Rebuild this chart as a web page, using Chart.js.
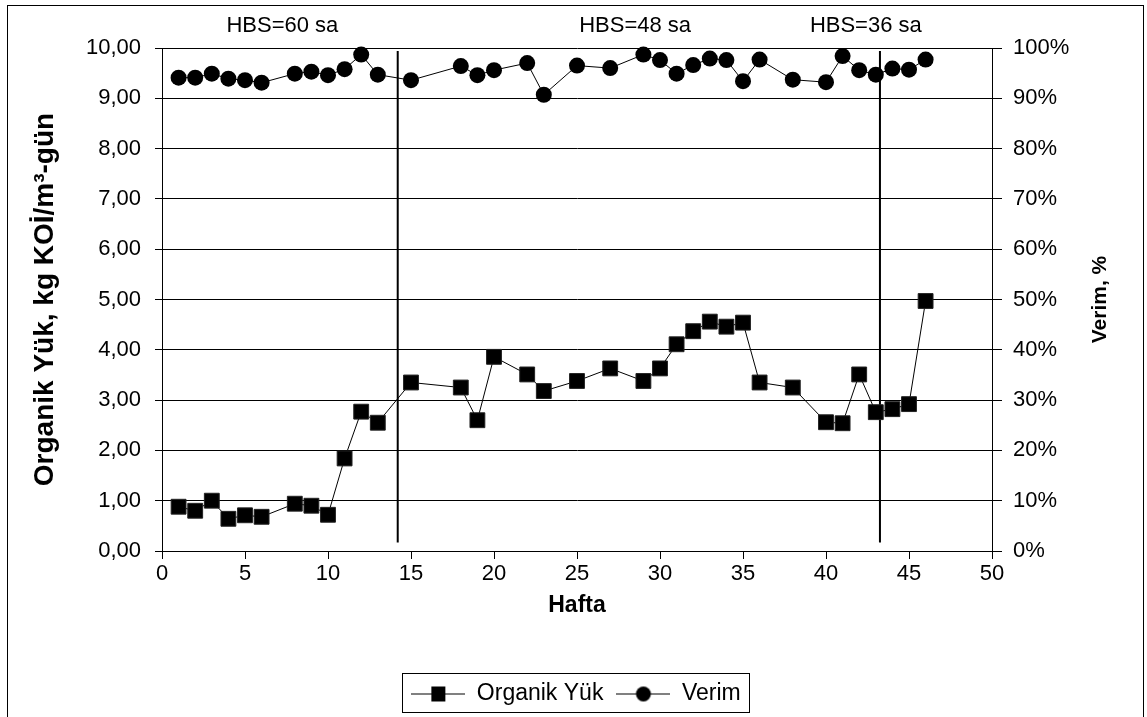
<!DOCTYPE html>
<html>
<head>
<meta charset="utf-8">
<script src="https://cdn.jsdelivr.net/npm/chart.js@4.4.0/dist/chart.umd.min.js"></script>
<style>
  html, body { margin: 0; padding: 0; background: #fff; }
</style>
</head>
<body>
<canvas id="chart" width="1147" height="717"></canvas>
<script>
// Hafta numaralari (x)
const weeks = [1, 2, 3, 4, 5, 6, 8, 9, 10, 11, 12, 13, 15, 18, 19, 20, 22, 23, 25, 27,
               29, 30, 31, 32, 33, 34, 35, 36, 38, 40, 41, 42, 43, 44, 45, 46];
// Organik yuk, kg KOI/m3-gun
const organikYuk = [0.88, 0.80, 1.00, 0.64, 0.71, 0.68, 0.94, 0.90, 0.72, 1.84, 2.77, 2.55,
                    3.35, 3.25, 2.60, 3.86, 3.51, 3.18, 3.38, 3.63, 3.38, 3.63, 4.11, 4.37,
                    4.56, 4.46, 4.54, 3.35, 3.25, 2.56, 2.54, 3.51, 2.76, 2.82, 2.92, 4.97];
// Verim, %
const verim = [94.1, 94.1, 94.9, 93.9, 93.6, 93.1, 94.9, 95.3, 94.6, 95.8, 98.7, 94.7,
               93.6, 96.4, 94.6, 95.6, 97.0, 90.7, 96.5, 96.0, 98.7, 97.6, 94.9, 96.6,
               97.9, 97.6, 93.4, 97.7, 93.7, 93.2, 98.4, 95.6, 94.7, 95.9, 95.7, 97.7];

// HBS degisim cizgileri ve etiketleri
const hbsChangeWeeks = [14.2, 43.25];
const hbsLineRange = [0.17, 9.94];
const hbsLabels = ['HBS=60 sa', 'HBS=48 sa', 'HBS=36 sa'];
const hbsLabelWeeks = [7.25, 28.5, 42.4];

// Eksen etiketleri
const leftTickLabels = ['0,00', '1,00', '2,00', '3,00', '4,00', '5,00', '6,00', '7,00', '8,00', '9,00', '10,00'];
const rightTickLabels = ['0%', '10%', '20%', '30%', '40%', '50%', '60%', '70%', '80%', '90%', '100%'];
const xTickLabels = ['0', '5', '10', '15', '20', '25', '30', '35', '40', '45', '50'];

const FONT = "'Liberation Sans', Arial, sans-serif";
Chart.defaults.font.family = FONT;
Chart.defaults.font.size = 22;
Chart.defaults.color = '#000';

function legendSymbol(style) {
    const c = document.createElement('canvas');
    c.width = 54;
    c.height = 20;
    const g = c.getContext('2d');
    g.strokeStyle = '#000';
    g.lineWidth = 1;
    g.beginPath();
    g.moveTo(0, 10.5);
    g.lineTo(54, 10.5);
    g.stroke();
    g.fillStyle = '#000';
    if (style === 'rect') {
        g.fillRect(20, 3, 14, 15);
    } else {
        g.beginPath();
        g.arc(27, 10.5, 7.5, 0, Math.PI * 2);
        g.fill();
    }
    return c;
}
const legendSymbols = [legendSymbol('rect'), legendSymbol('circle')];

const vLines = hbsChangeWeeks.map(w => ({
    type: 'line',
    label: 'hbs',
    data: [{ x: w, y: hbsLineRange[0] }, { x: w, y: hbsLineRange[1] }],
    borderColor: '#000',
    borderWidth: 2,
    pointRadius: 0,
    yAxisID: 'y'
}));

const framePlugin = {
    id: 'frame',
    beforeDraw(chart) {
        const ctx = chart.ctx;
        ctx.save();
        ctx.fillStyle = '#fff';
        ctx.fillRect(0, 0, chart.width, chart.height);
        ctx.strokeStyle = '#000';
        ctx.lineWidth = 1;
        ctx.strokeRect(7.5, 5.5, 1136, 730);
        ctx.restore();
    },
    afterDraw(chart) {
        const ctx = chart.ctx;
        const xs = chart.scales.x;
        const area = chart.chartArea;
        ctx.save();
        // HBS etiketleri
        ctx.font = '22px ' + FONT;
        ctx.fillStyle = '#000';
        ctx.textAlign = 'center';
        ctx.textBaseline = 'middle';
        hbsLabels.forEach((t, i) => {
            ctx.fillText(t, xs.getPixelForValue(hbsLabelWeeks[i]), 26);
        });
        // sag eksen basligi
        ctx.font = 'bold 21px ' + FONT;
        ctx.translate(1100, (area.top + area.bottom) / 2);
        ctx.rotate(-Math.PI / 2);
        ctx.fillText('Verim, %', 0, 0);
        ctx.restore();

        // lejant cercevesi
        const boxes = chart.legend.legendHitBoxes;
        if (boxes && boxes.length) {
            const left = Math.min(...boxes.map(b => b.left));
            const right = Math.max(...boxes.map(b => b.left + b.width));
            const top = boxes[0].top;
            ctx.save();
            ctx.strokeStyle = '#000';
            ctx.lineWidth = 1;
            ctx.strokeRect(Math.round(left - 9) + 0.5, Math.round(top - 9) + 0.5,
                Math.round(right - left + 18), 39);
            ctx.restore();
        }
    }
};

new Chart(document.getElementById('chart'), {
    type: 'line',
    data: {
        datasets: [
            {
                label: 'Organik Yük',
                data: weeks.map((w, i) => ({ x: w, y: organikYuk[i] })),
                borderColor: '#000',
                backgroundColor: '#000',
                borderWidth: 1,
                pointStyle: 'rect',
                pointRadius: 10.5,
                pointBorderColor: '#222',
                pointBorderWidth: 1,
                yAxisID: 'y',
                clip: false
            },
            {
                label: 'Verim',
                data: weeks.map((w, i) => ({ x: w, y: verim[i] })),
                borderColor: '#000',
                backgroundColor: '#000',
                borderWidth: 1,
                pointStyle: 'circle',
                pointRadius: 8,
                pointBorderWidth: 0,
                yAxisID: 'y1',
                clip: false
            },
            ...vLines
        ]
    },
    options: {
        responsive: false,
        animation: false,
        layout: { padding: { top: 48, left: 8, right: 3, bottom: 2 } },
        scales: {
            x: {
                type: 'linear',
                min: 0,
                max: 50,
                ticks: {
                    stepSize: 5,
                    padding: 2,
                    callback: (v, i) => xTickLabels[i]
                },
                grid: { drawOnChartArea: false, tickLength: 8, tickColor: '#000' },
                border: { color: '#000', width: 1 },
                title: {
                    display: true,
                    text: 'Hafta',
                    font: { size: 23, weight: 'bold' },
                    padding: { top: 4, bottom: 50 }
                },
                afterFit: s => { s.height = 118; }
            },
            y: {
                position: 'left',
                min: 0,
                max: 10,
                ticks: {
                    stepSize: 1,
                    padding: 14,
                    callback: (v, i) => leftTickLabels[i]
                },
                grid: { color: '#000', lineWidth: 1, tickLength: 7, tickColor: '#000' },
                border: { color: '#000', width: 1 },
                title: {
                    display: true,
                    text: 'Organik Yük, kg KOİ/m³-gün',
                    font: { size: 28, weight: 'bold' },
                    padding: { top: 20, bottom: 0 }
                },
                afterFit: s => { s.width = 154; }
            },
            y1: {
                position: 'right',
                min: 0,
                max: 100,
                ticks: {
                    stepSize: 10,
                    padding: 11,
                    callback: (v, i) => rightTickLabels[i]
                },
                grid: { drawOnChartArea: false, tickLength: 10, tickColor: '#000' },
                border: { color: '#000', width: 1 },
                afterFit: s => { s.width = 152; }
            }
        },
        plugins: {
            legend: {
                position: 'bottom',
                labels: {
                    font: { size: 23 },
                    color: '#000',
                    usePointStyle: true,
                    pointStyleWidth: 54,
                    padding: 13,
                    filter: item => item.datasetIndex < 2,
                    generateLabels: chart => {
                        const items = Chart.defaults.plugins.legend.labels.generateLabels(chart);
                        return items.map(it => Object.assign(it, {
                            pointStyle: legendSymbols[it.datasetIndex] || it.pointStyle
                        }));
                    }
                }
            },
            tooltip: { enabled: false }
        }
    },
    plugins: [framePlugin]
});
</script>
</body>
</html>
